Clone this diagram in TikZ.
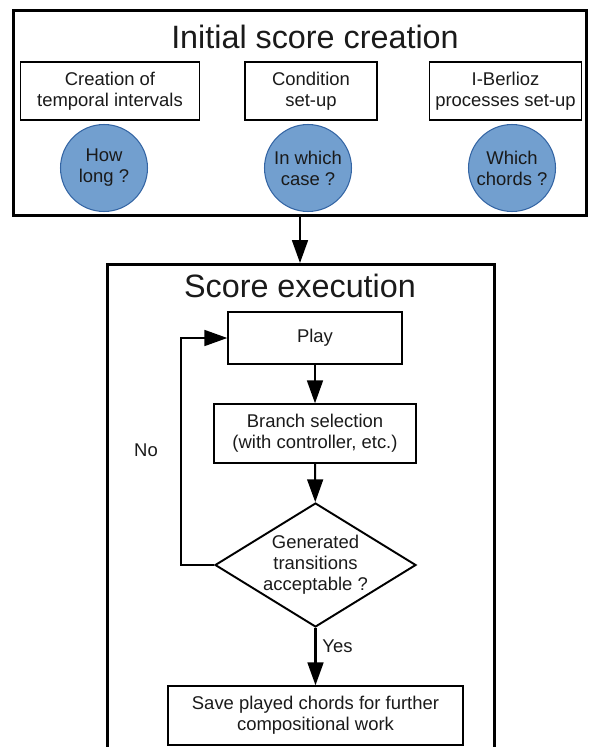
\documentclass[tikz,border=0pt]{standalone}
\usepackage{fontspec}
\setmainfont{Liberation Sans}
\usepackage{xcolor}
\usetikzlibrary{arrows.meta,shapes.geometric}
\definecolor{bluefill}{HTML}{729FCF}
\definecolor{blueedge}{HTML}{3465A4}
\definecolor{inkmain}{HTML}{1A1A1A}
\tikzset{every node/.append style={font=\fontsize{10.5}{12}\selectfont,text=inkmain},
  frame/.style={draw,line width=1.7pt,inner sep=0pt},
  stepbox/.style={draw,line width=0.8pt,align=center,inner sep=0pt},
  question/.style={circle,draw=blueedge,fill=bluefill,line width=0.6pt,
    minimum size=1.74cm,inner sep=0pt,align=center},
  decision/.style={diamond,draw,line width=1.1pt,align=center,inner sep=0pt,
    aspect=1.62,minimum width=4.02cm,minimum height=2.48cm},
  heading/.style={font=\fontsize{18.4}{22}\selectfont},
  flow/.style={-{Triangle[length=13pt,width=9pt]},line width=1.2pt}}

\begin{document}
\begin{tikzpicture}[x=0.02cm,y=-0.02cm]
  \clip (0,0) rectangle (590,747);
  % initial score creation
  \node[frame,minimum width=11.48cm,minimum height=4.12cm] (init) at (300,113) {};
  \node[heading] (initT) at (315,37) {Initial score creation};
  \node[stepbox,minimum width=3.57cm,minimum height=1.16cm] (temp) at (110,91) {Creation of\\temporal intervals};
  \node[stepbox,minimum width=2.64cm,minimum height=1.16cm] (cond) at (311,91) {Condition\\set-up};
  \node[stepbox,minimum width=3.03cm,minimum height=1.16cm] (proc) at (505.5,91) {I-Berlioz\\processes set-up};
  \node[question] (long) at (104,168) {How\\long ?};
  \node[question] (case) at (308,168) {In which\\case ?};
  \node[question] (chords) at (512,168) {Which\\chords ?};
  % score execution
  \node[frame,anchor=north,minimum width=7.76cm,minimum height=10cm] (exec) at (301,263) {};
  \node[heading] (execT) at (300,286) {Score execution};
  \node[stepbox,minimum width=3.48cm,minimum height=1.04cm] (play) at (315,338) {Play};
  \node[stepbox,minimum width=4.04cm,minimum height=1.18cm] (branch) at (315,433.5) {Branch selection\\(with controller, etc.)};
  \node[decision] (accept) at (315.5,565) {Generated\\transitions\\acceptable ?};
  \node[stepbox,minimum width=5.9cm,minimum height=1.18cm] (save) at (315.5,715.5) {Save played chords for further\\compositional work};
  \coordinate (back) at (181,565);
  \node (no) at (146,450) {No};
  \draw[flow] (init.south) -- (init.south |- exec.north);
  \draw[flow] (play) -- (branch);
  \draw[flow] (branch) -- (accept);
  \draw[flow] (accept) -- node[right,pos=0.32] {Yes} (save);
  \draw[flow] (accept.west) -- (back) |- (play.west);
\end{tikzpicture}
\end{document}
